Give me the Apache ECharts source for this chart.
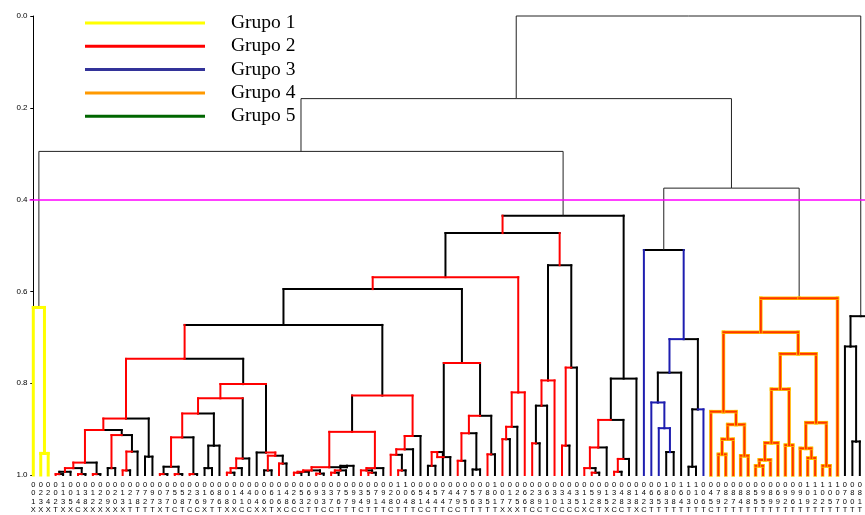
<!DOCTYPE html>
<html>
<head>
<meta charset="utf-8">
<script src="https://cdn.jsdelivr.net/npm/echarts@6/dist/echarts.min.js"></script>
<style>
  html, body { margin: 0; padding: 0; background: #fff; overflow: hidden; }
  /* the plot runs a little past the right edge of the picture, as in the original */
  #chart { width: 880px; height: 515px; }
</style>
</head>
<body>
<div id="chart"></div>
<script>
// leaf labels: each leaf has 4 stacked characters, one string per row
const labelRow1 = '0000100000' + '0000000000' + '0000000000' + '0000000000' + '0000000001' + '1000000000' + '0010000000' + '0000000000' + '0000010111' + '0000000000' + '0000111110' + '0000';
const labelRow2 = '022010131202127790' + '755231680144006142569' + '3375935792006545744' + '75780012623633431591' + '348146680601047888' + '8598699901000788' + '88';
const labelRow3 = '134235482290318273' + '708769768010460686320' + '3767949148048144479' + '56351775689101351285' + '28382353843065927' + '48559926192257001' + '12';
const labelRow4 = 'XXXTXXCXXXXXXTTTTX' + 'TCTCCXTTXXCCXXTXCCCTT' + 'CCTTTCTTTCTTTCCTTCC' + 'TTTTTXXXTCCTCCCCXCTX' + 'CCTXCTTTTTTTTCTTT' + 'TTTTTTTTTTTTTTTTT' + 'TT';

const yTicks = [0, 0.2, 0.4, 0.6, 0.8, 1.0];
const cutHeight = 0.4;
const groupNames = ['Grupo 1', 'Grupo 2', 'Grupo 3', 'Grupo 4', 'Grupo 5'];
const groupColors = ['#ffff00', '#ff0000', '#333399', '#ff9900', '#006600'];

// dendrogram: [height, left, right, leftColour?, rightColour?, barColour?]; o = leaf
const o = null;

const yellowTree = [0.635, o, [0.953, o, o]];

const g2a = [0.877,
  [0.902,
    [0.973, [0.985, [0.993, [0.998, o, o], o, 'k', 'k'], [0.998, o, o]], [0.998, o, o]],
    [0.913, [0.985, o, o, 'k', 'k'], [0.949, [0.99, o, o], o]]],
  [0.96, o, o, 'k', 'k']];

const g2b = [0.802,
  [0.833,
    [0.866,
      [0.918, [0.982, [0.998, o, o], [0.998, o, o], 'k', 'k'], [0.998, o, o]],
      [0.936, [0.985, o, o, 'k', 'k'], o, 'k', 'k']],
    [0.964, [0.985, [0.995, o, o], o], o], 'r', 'k', 'r'],
  [0.951, o, [0.958, [0.99, o, o, 'k', 'k'], [0.975, o, o]], 'k', 'r'], 'r', 'k', 'r'];

const g2c = [0.827,
  [0.906,
    [0.983,
      [0.99, [0.993, [0.995, o, o], o], [0.997, o, o]],
      [0.98, [0.99, [0.995, o, o], o], o, 'k', 'k']],
    [0.985, [0.99, o, [0.995, o, o]], o], 'r', 'r'],
  [0.915, [0.944, [0.956, o, [0.99, o, o]], o], o], 'k', 'r', 'r'];

const g2d = [0.756,
  [0.961, [0.95, [0.98, o, o, 'k', 'k'], o], o],
  [0.871, [0.909, [0.969, o, o], [0.988, o, o, 'k', 'k']], [0.955, o, o]], 'k', 'k', 'r'];

const g2e = [0.82, [0.895, [0.922, o, o], o], o, 'r', 'r'];
const g2f = [0.543, [0.794, [0.849, [0.931, o, o], o, 'k', 'k'], o, 'r', 'r'], [0.766, [0.936, o, o], o], 'k', 'k', 'k'];
const g2g = [0.79, [0.88, [0.94, [0.985, o, [0.995, o, o]], o], [0.965, [0.993, o, o], o]], o, 'k', 'k', 'k'];

const group2Tree = [0.435,
  [0.473,
    [0.569,
      [0.595, [0.673, [0.747, g2a, g2b], g2c, 'r', 'k', 'k'], g2d, 'k', 'k', 'k'],
      g2e, 'r', 'r', 'r'],
    g2f, 'k', 'r', 'k'],
  g2g, 'r', 'k', 'k'];

const blueTree = [0.51, o,
  [0.704,
    [0.777, [0.842, o, [0.898, o, [0.95, o, o, 'k', 'k']]], o, 'k', 'k'],
    [0.857, [0.982, o, o, 'k', 'k'], o, 'k', 'b'], 'b', 'k'], 'b', 'b', 'k'];

const orangeTree = [0.615,
  [0.689,
    [0.862, o, [0.89, [0.922, [0.955, o, o], o], [0.958, o, o]]],
    [0.736,
      [0.813, [0.93, [0.967, [0.98, o, o], o], o], [0.935, o, o]],
      [0.886, [0.942, o, [0.963, o, o]], [0.98, o, o]]]],
  o];

const rightTree = [0.654, [0.72, o, [0.927, o, o]], [0.95, o, o]];

const tree = [0.0, [0.18, [0.295, yellowTree, group2Tree], [0.375, blueTree, orangeTree]], rightTree];

// default leg colours of each coloured subtree
const subtreeColours = new Map([
  [yellowTree, ['y', 'y']],
  [group2Tree, ['r', 'k']],
  [blueTree, ['b', 'b']],
  [orangeTree, ['o', 'o']]
]);
const colourKeys = ['k', 'r', 'y', 'b', 'o'];
const colourValues = ['#000000', '#ff0000', '#ffff00', '#1e1eb0', '#ff3300'];

// walk the tree, leaves get consecutive positions; collect straight segments
let leafCount = 0;
const segments = [];
function layout(node, pair) {
  if (node === o) return { x: leafCount++, h: 1 };
  if (subtreeColours.has(node)) pair = subtreeColours.get(node);
  const [h, left, right, cl, cr, ch] = node;
  const a = layout(left, pair);
  const b = layout(right, pair);
  const mid = (a.x + b.x) / 2;
  const w = h < cutHeight ? 1 : 2;
  const kl = colourKeys.indexOf(cl || pair[0]);
  const kr = colourKeys.indexOf(cr || pair[1]);
  segments.push([a.x, a.h, a.x, h, kl, w]);
  segments.push([b.x, b.h, b.x, h, kr, w]);
  if (ch) {
    segments.push([a.x, h, b.x, h, colourKeys.indexOf(ch), w]);
  } else {
    segments.push([a.x, h, mid, h, kl, w]);
    segments.push([mid, h, b.x, h, kr, w]);
  }
  return { x: mid, h: h };
}
layout(tree, ['k', 'k']);
segments.sort((p, q) => (p[4] === 0 ? 0 : 1) - (q[4] === 0 ? 0 : 1));

const N = leafCount;
const categories = [];
for (let i = 0; i < N; i++) {
  categories.push([labelRow1[i] || '0', labelRow2[i] || '0', labelRow3[i] || '0', labelRow4[i] || 'T'].join('\n'));
}

const step = 7.456;
const chartWidth = 880;
const gridLeft = 33.3 - step / 2;
const gridRight = chartWidth - gridLeft - N * step;

const chart = echarts.init(document.getElementById('chart'));

const legendSeries = groupNames.map((name, i) => ({
  name: name,
  type: 'line',
  xAxisIndex: 1,
  data: [],
  itemStyle: { color: groupColors[i] },
  lineStyle: { color: groupColors[i] }
}));

chart.setOption({
  animation: false,
  backgroundColor: '#ffffff',
  grid: { left: gridLeft, right: gridRight, top: 16, bottom: 40 },
  legend: {
    data: groupNames,
    orient: 'vertical',
    left: 85,
    top: 13,
    padding: 0,
    icon: 'rect',
    itemWidth: 120,
    itemHeight: 3,
    itemGap: 3.3,
    selectedMode: false,
    textStyle: {
      fontFamily: 'Liberation Serif',
      fontSize: 19.5,
      lineHeight: 20,
      color: '#000',
      padding: [0, 0, 0, 21]
    }
  },
  xAxis: [
    {
      type: 'category',
      data: categories,
      boundaryGap: true,
      axisLine: { show: false },
      axisTick: { show: false },
      axisLabel: {
        interval: 0,
        margin: 6,
        fontSize: 7.5,
        lineHeight: 8.2,
        fontFamily: 'Liberation Sans',
        color: '#000'
      }
    },
    { type: 'value', min: -0.5, max: N - 0.5, show: false }
  ],
  yAxis: {
    type: 'value',
    inverse: true,
    min: yTicks[0],
    max: yTicks[yTicks.length - 1],
    interval: 0.2,
    axisLine: { show: true, lineStyle: { color: '#000', width: 1 } },
    axisTick: { show: true, length: 3, lineStyle: { color: '#000' } },
    splitLine: { show: false },
    axisLabel: {
      formatter: v => v.toFixed(1),
      fontSize: 8,
      margin: 2,
      color: '#000',
      fontFamily: 'Liberation Sans'
    }
  },
  series: [
    {
      type: 'custom',
      xAxisIndex: 1,
      data: segments,
      encode: { x: [0, 2], y: [1, 3] },
      renderItem: function (params, api) {
        const p1 = api.coord([api.value(0), api.value(1)]);
        const p2 = api.coord([api.value(2), api.value(3)]);
        const ci = api.value(4);
        const w = api.value(5);
        const main = {
          type: 'line',
          shape: { x1: p1[0], y1: p1[1], x2: p2[0], y2: p2[1] },
          style: {
            stroke: ci === 0 && w === 1 ? '#222' : colourValues[ci],
            lineWidth: ci === 2 ? 3 : w,
            lineCap: w > 1 ? 'square' : 'butt'
          }
        };
        if (ci === 4) {
          return {
            type: 'group',
            children: [
              { type: 'line', shape: main.shape, style: { stroke: '#ffc400', lineWidth: 3.5, lineCap: 'square' } },
              main
            ]
          };
        }
        return main;
      },
      markLine: {
        silent: true,
        symbol: 'none',
        label: { show: false },
        lineStyle: { color: '#ff00ff', width: 1.5, type: 'solid' },
        data: [{ yAxis: cutHeight }]
      },
      z: 3
    }
  ].concat(legendSeries)
});
</script>
</body>
</html>
